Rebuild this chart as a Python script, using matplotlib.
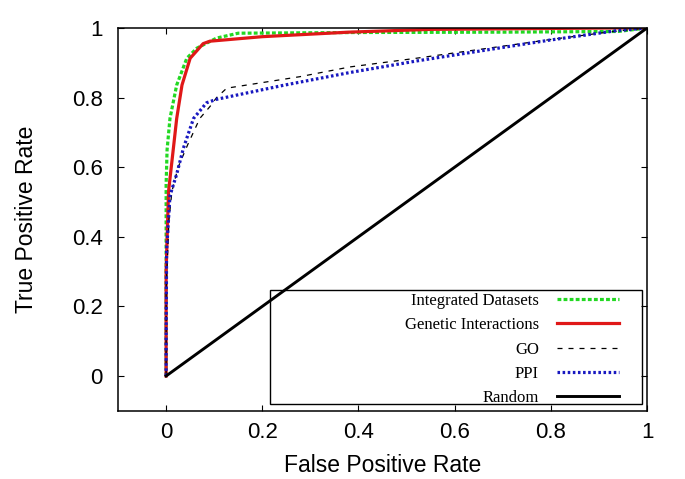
import matplotlib
matplotlib.use("Agg")
import matplotlib.pyplot as plt
from matplotlib.patches import Rectangle

# ROC curves
integ_fpr = [0, 0, 0.002, 0.008, 0.022, 0.043, 0.064, 0.105, 0.15, 0.4, 0.7, 0.94, 1.0]
integ_tpr = [0, 0.55, 0.65, 0.74, 0.836, 0.913, 0.942, 0.971, 0.985, 0.987, 0.988, 0.99, 1.0]

genet_fpr = [0, 0, 0.005, 0.015, 0.022, 0.033, 0.05, 0.077, 0.091, 0.2, 0.38, 0.55, 0.93, 1.0]
genet_tpr = [0, 0.3, 0.53, 0.653, 0.74, 0.836, 0.913, 0.955, 0.962, 0.975, 0.988, 0.996, 1.0, 1.0]

go_fpr = [0, 0, 0.006, 0.012, 0.025, 0.045, 0.07, 0.091, 0.105, 0.126, 0.278, 0.382,
          0.52, 0.66, 0.8, 0.93, 1.0]
go_tpr = [0, 0.25, 0.45, 0.53, 0.6, 0.665, 0.74, 0.774, 0.8, 0.827, 0.86, 0.888,
          0.913, 0.94, 0.967, 0.99, 1.0]

ppi_fpr = [0, 0, 0.001, 0.008, 0.022, 0.036, 0.057, 0.084, 0.105, 0.243, 0.382,
           0.52, 0.658, 0.797, 0.935, 1.0]
ppi_tpr = [0, 0.1, 0.36, 0.518, 0.58, 0.655, 0.74, 0.785, 0.795, 0.835, 0.872,
           0.905, 0.935, 0.965, 0.992, 1.0]

rand_fpr = [0, 1]
rand_tpr = [0, 1]

ticks = [0, 0.2, 0.4, 0.6, 0.8, 1]
tick_labels = ["0", "0.2", "0.4", "0.6", "0.8", "1"]

plt.rcParams["font.family"] = ["Liberation Sans", "DejaVu Sans"]

fig = plt.figure(figsize=(6.85, 4.79), dpi=100)
ax = fig.add_axes([0.1723, 0.1424, 0.7723, 0.7992])

ax.plot(integ_fpr, integ_tpr, color="#22d822", lw=2.3, dashes=(1.2, 0.7),
        label="Integrated Datasets")
ax.plot(genet_fpr, genet_tpr, color="#e01818", lw=2.3, label="Genetic Interactions")
ax.plot(go_fpr, go_tpr, color="black", lw=0.9, dashes=(4, 4.8), label="GO")
ax.plot(ppi_fpr, ppi_tpr, color="#1818c0", lw=2.3, dashes=(0.8, 0.8),
        dash_capstyle="butt", label="PPI")
ax.plot(rand_fpr, rand_tpr, color="black", lw=2.1, label="Random")

ax.set_xlim(-0.1, 1)
ax.set_ylim(-0.1, 1)
ax.set_xticks(ticks)
ax.set_xticklabels(tick_labels)
ax.set_yticks(ticks)
ax.set_yticklabels(tick_labels)
ax.tick_params(direction="in", top=True, right=True, length=4.5, width=0.8,
               labelsize=16)
ax.tick_params(axis="x", pad=8)
ax.tick_params(axis="y", pad=11)
for s in ax.spines.values():
    s.set_linewidth(1.1)

ax.set_xlabel("False Positive Rate", fontsize=16.5)
ax.set_ylabel("True Positive Rate", fontsize=16.5)
ax.xaxis.set_label_coords(0.5, -0.113)
ax.yaxis.set_label_coords(-0.151, 0.5)

leg = ax.legend(loc="lower right", bbox_to_anchor=(0.947, 0.012), markerfirst=False,
                frameon=False, prop={"family": "Liberation Serif", "size": 12},
                handlelength=3.7, handletextpad=1.1, labelspacing=0.5,
                borderpad=0, borderaxespad=0)
# gnuplot-style key box, wider than its contents
ax.add_patch(Rectangle((0.287, 0.018), 0.7035, 0.298, transform=ax.transAxes,
                       fill=False, ec="black", lw=1.0))

fig.savefig("out.png", dpi=100)
